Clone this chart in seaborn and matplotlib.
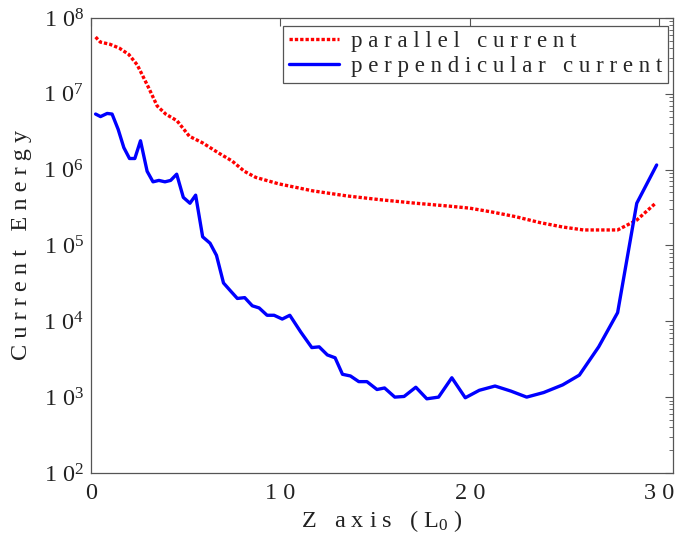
import numpy as np
import pandas as pd
import matplotlib
matplotlib.use("Agg")
import matplotlib.pyplot as plt
import seaborn as sns
from matplotlib.ticker import FixedLocator, FuncFormatter, LogLocator, NullFormatter

# ---- data ----
par_z = [0.25, 0.5, 1.0, 1.5, 2.0, 2.45, 3.05, 3.5, 3.95, 4.55, 5.2, 5.9, 6.75, 7.45,
         8.1, 8.7, 9.9, 11.7, 13.5, 15.3, 17.15, 18.9, 20.0, 21.2, 22.4, 23.7, 24.9,
         26.0, 27.0, 27.8, 28.8, 29.8]
par_e = [5.6e7, 4.8e7, 4.5e7, 4.0e7, 3.3e7, 2.4e7, 1.2e7, 6.9e6, 5.4e6, 4.4e6, 2.75e6,
         2.25e6, 1.65e6, 1.3e6, 9.5e5, 7.9e5, 6.5e5, 5.25e5, 4.5e5, 4.0e5, 3.6e5, 3.3e5,
         3.1e5, 2.75e5, 2.4e5, 2.0e5, 1.75e5, 1.6e5, 1.6e5, 1.6e5, 2.15e5, 3.6e5]

perp_z = [0.25, 0.51, 0.86, 1.12, 1.44, 1.74, 2.04, 2.32, 2.62, 2.97, 3.28, 3.59, 3.91,
          4.21, 4.53, 4.88, 5.23, 5.53, 5.9, 6.29, 6.63, 7.0, 7.38, 7.73, 8.12, 8.52,
          8.88, 9.3, 9.67, 10.1, 10.5, 11.08, 11.66, 12.05, 12.48, 12.89, 13.28, 13.7,
          14.14, 14.57, 15.1, 15.5, 16.04, 16.53, 17.15, 17.73, 18.35, 19.05, 19.76,
          20.5, 21.33, 22.17, 23.0, 23.9, 24.9, 25.78, 26.8, 27.8, 28.81, 29.86]
perp_e = [5.4e6, 5.0e6, 5.5e6, 5.4e6, 3.4e6, 1.95e6, 1.4e6, 1.4e6, 2.4e6, 9.5e5, 6.9e5,
          7.2e5, 6.9e5, 7.2e5, 8.7e5, 4.3e5, 3.6e5, 4.6e5, 1.3e5, 1.07e5, 7.4e4, 3.2e4,
          2.5e4, 2.0e4, 2.05e4, 1.6e4, 1.5e4, 1.2e4, 1.2e4, 1.07e4, 1.2e4, 7.2e3, 4.5e3,
          4.6e3, 3.6e3, 3.3e3, 2.0e3, 1.9e3, 1.6e3, 1.6e3, 1.26e3, 1.32e3, 1.0e3, 1.02e3,
          1.35e3, 9.5e2, 1.0e3, 1.8e3, 9.8e2, 1.23e3, 1.4e3, 1.2e3, 1.0e3, 1.15e3, 1.45e3,
          1.95e3, 4.6e3, 1.3e4, 3.6e5, 1.15e6]

series_labels = ["p a r a l l e l   c u r r e n t",
                 "p e r p e n d i c u l a r   c u r r e n t"]
x_ticks = [0, 10, 20, 30]
x_tick_labels = ["0", "1 0", "2 0", "3 0"]
y_exponents = [2, 3, 4, 5, 6, 7, 8]
x_label = "Z   a x i s   ( L$_{0}$ )"
y_label = "C u r r e n t   E n e r g y"

df = pd.concat([
    pd.DataFrame({"z": par_z, "energy": par_e, "series": series_labels[0]}),
    pd.DataFrame({"z": perp_z, "energy": perp_e, "series": series_labels[1]}),
], ignore_index=True)

sns.set_style("white")
plt.rcParams["font.family"] = ["Liberation Serif", "DejaVu Serif"]
plt.rcParams["mathtext.fontset"] = "custom"
plt.rcParams["mathtext.rm"] = "Liberation Serif"
plt.rcParams["mathtext.it"] = "Liberation Serif"
plt.rcParams["mathtext.bf"] = "Liberation Serif:bold"

fig, ax = plt.subplots(figsize=(6.78, 5.43), dpi=100)
fig.subplots_adjust(left=0.134, right=0.992, bottom=0.129, top=0.967)

sns.lineplot(data=df, x="z", y="energy", hue="series", style="series",
             palette=["#ff0000", "#0000ff"], dashes=[(1, 0.6), ""],
             linewidth=2.4, ax=ax, sort=False)

ax.set_yscale("log")
ax.set_xlim(0, 30.7)
ax.set_ylim(1e2, 1e8)

ax.xaxis.set_major_locator(FixedLocator(x_ticks))
ax.set_xticklabels(x_tick_labels)
ax.yaxis.set_major_locator(FixedLocator([10.0 ** e for e in y_exponents]))
ax.yaxis.set_major_formatter(FuncFormatter(lambda v, p: "1 0$^{%d}$" % round(np.log10(v))))
ax.yaxis.set_minor_locator(LogLocator(base=10, subs=np.arange(2, 10)))
ax.yaxis.set_minor_formatter(NullFormatter())

ax.tick_params(axis="both", which="both", direction="in", top=True, right=True,
               color="#555555", labelsize=17.5, labelcolor="#222222")
ax.tick_params(axis="x", which="major", length=6, width=0.8, pad=7)
ax.tick_params(axis="y", which="major", length=6, width=0.8, pad=5)
ax.tick_params(axis="y", which="minor", length=3, width=0.6)
for s in ax.spines.values():
    s.set_color("#555555")
    s.set_linewidth(0.9)

ax.set_xlabel(x_label, fontsize=17.5, color="#222222", labelpad=3)
ax.set_ylabel(y_label, fontsize=17.5, color="#222222", labelpad=8)

leg = ax.legend(loc="upper right", bbox_to_anchor=(0.992, 0.983), borderaxespad=0,
                fontsize=16.5, frameon=True, fancybox=False, framealpha=1,
                edgecolor="#555555", handlelength=2.2, handletextpad=0.5,
                borderpad=0.25, labelspacing=0.15, title=None)
leg.get_frame().set_linewidth(0.9)

fig.savefig("out.png", dpi=100)
